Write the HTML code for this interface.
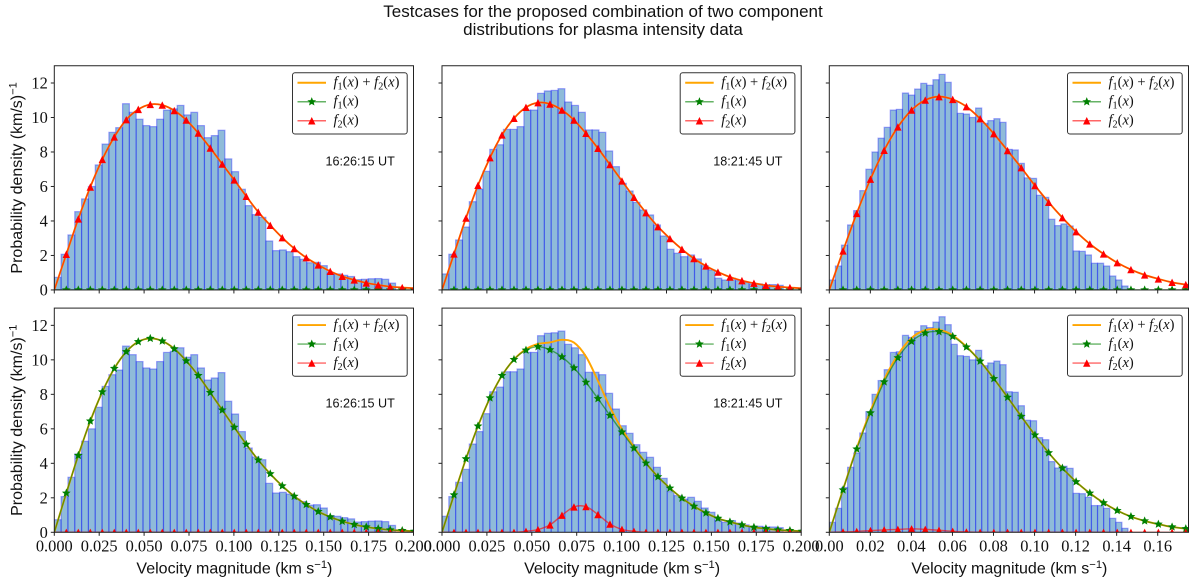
<!DOCTYPE html>
<html lang="en">
<head>
<meta charset="utf-8">
<title>Testcases for plasma intensity distributions</title>
<style>
html,body{margin:0;padding:0;background:#fff;width:1200px;height:585px;overflow:hidden}
svg{display:block;filter:blur(0.35px)}
.sans{font-family:"Liberation Sans",sans-serif;fill:#111}
.serif{font-family:"Liberation Serif",serif;fill:#111}
</style>
</head>
<body>
<svg id="figure" xmlns="http://www.w3.org/2000/svg" width="1200" height="585" viewBox="0 0 1200 585">
  <rect x="0" y="0" width="1200" height="585" fill="#fff"/>
  <text class="sans" x="603" y="17" font-size="17" text-anchor="middle">Testcases for the proposed combination of two component</text>
  <text class="sans" x="603" y="35" font-size="17" text-anchor="middle">distributions for plasma intensity data</text>
</svg>
<script>
// ---------- histogram heights ----------
const barsA = [.73,2.07,3.19,4.54,5.28,6.0,7.25,8.46,9.14,9.41,10.8,10.3,9.9,9.53,9.47,9.9,10.43,10.5,10.7,10.15,10.3,9.53,8.83,8.95,9.26,7.6,6.86,5.84,4.89,4.37,4.21,2.84,2.28,2.32,2.22,1.93,1.78,1.58,1.6,1.41,.97,.93,.85,.78,.6,.62,.65,.66,.62,.4];
const barsB = [.93,2.07,2.9,3.65,5.12,5.84,6.88,8.15,8.42,9.31,9.31,9.47,10.43,10.43,11.4,11.54,11.57,11.67,10.9,10.7,10.3,9.28,9.28,9.14,8.06,7.15,6.18,5.74,5.08,4.64,4.35,3.77,3.13,2.36,2.13,1.93,2.03,1.8,1.41,1.16,.68,.58,.68,.54,.43,.35,.35,.31,.31,.27];
const barsC = [.58,1.39,2.6,3.77,4.6,5.76,7.0,8.0,8.8,9.43,10.43,10.47,11.42,11.3,11.65,11.98,11.87,12.19,12.5,12.04,10.9,10.24,10.2,10.0,10.55,9.66,9.82,9.93,9.72,8.15,8.12,7.34,6.5,6.47,5.49,5.37,4.1,3.73,3.83,3.71,2.26,2.24,2.03,1.55,1.55,1.39,.81,.58,.23];
const binWidthAB = 0.0038;
const binWidthC = 0.00297;

// ---------- fitted curves, sampled every gridStep ----------
const gridStep = 0.00668;
const zeros31 = [0,0,0,0,0,0,0,0,0,0,0,0,0,0,0,0,0,0,0,0,0,0,0,0,0,0,0,0,0,0,0];
const zeros28 = [0,0,0,0,0,0,0,0,0,0,0,0,0,0,0,0,0,0,0,0,0,0,0,0,0,0,0,0];

const p1F2 = [0,2.07,4.12,5.97,7.57,8.87,9.87,10.47,10.76,10.72,10.4,9.85,9.1,8.23,7.3,6.38,5.43,4.52,3.75,3.03,2.4,1.87,1.45,1.08,.79,.58,.41,.29,.19,.14,.1];
const p1Sum = [0,2.07,4.12,5.97,7.57,8.87,9.87,10.47,10.76,10.72,10.4,9.85,9.1,8.23,7.3,6.38,5.43,4.52,3.75,3.03,2.4,1.87,1.45,1.08,.79,.58,.41,.29,.19,.14,.1];

const p2F2 = [0,2.09,4.17,6.07,7.67,8.99,9.95,10.59,10.86,10.78,10.43,9.85,9.08,8.21,7.27,6.32,5.37,4.48,3.67,2.98,2.36,1.82,1.39,1.04,.75,.54,.39,.27,.19,.14,.09];
const p2Sum = [0,2.09,4.17,6.07,7.67,8.99,9.95,10.59,10.86,10.78,10.43,9.85,9.08,8.21,7.27,6.32,5.37,4.48,3.67,2.98,2.36,1.82,1.39,1.04,.75,.54,.39,.27,.19,.14,.09];

const p3F2 = [0,2.26,4.44,6.42,8.1,9.45,10.43,11.01,11.21,11.05,10.63,9.93,9.06,8.08,7.09,6.05,5.08,4.19,3.38,2.67,2.09,1.58,1.18,.87,.64,.44,.31,.21];
const p3Sum = [0,2.26,4.44,6.42,8.1,9.45,10.43,11.01,11.21,11.05,10.63,9.93,9.06,8.08,7.09,6.05,5.08,4.19,3.38,2.67,2.09,1.58,1.18,.87,.64,.44,.31,.21];

const p4F1 = [0,2.27,4.46,6.45,8.14,9.5,10.47,11.05,11.24,11.09,10.64,9.94,9.09,8.1,7.09,6.09,5.1,4.19,3.39,2.69,2.09,1.61,1.2,.89,.64,.45,.31,.21,.14,.1,.06];
const p4Sum = [0,2.27,4.46,6.45,8.14,9.5,10.47,11.05,11.24,11.09,10.64,9.94,9.09,8.1,7.09,6.09,5.1,4.19,3.39,2.69,2.09,1.61,1.2,.89,.64,.45,.31,.21,.14,.1,.06];

const p5F1 = [0,2.17,4.26,6.16,7.79,9.09,10.02,10.56,10.76,10.58,10.17,9.53,8.7,7.75,6.78,5.81,4.88,4.01,3.22,2.56,1.98,1.51,1.12,.81,.6,.43,.29,.21,.14,.1,.06];
const p5F2 = [0,0,0,0,0,0,0,.06,.16,.43,.99,1.47,1.49,1.03,.48,.17,.06,0,0,0,0,0,0,0,0,0,0,0,0,0,0];
const p5Sum = [0,2.17,4.26,6.16,7.79,9.09,10.02,10.62,10.92,11.01,11.16,11.0,10.19,8.78,7.26,5.98,4.94,4.01,3.22,2.56,1.98,1.51,1.12,.81,.6,.43,.29,.21,.14,.1,.06];

const p6F1 = [0,2.46,4.83,6.92,8.72,10.12,11.07,11.55,11.63,11.36,10.74,9.92,8.91,7.83,6.72,5.64,4.61,3.72,2.93,2.27,1.71,1.26,.91,.66,.47,.31,.21,.14];
const p6F2 = [0,.02,.05,.1,.14,.17,.2,.17,.12,.06,.02,0,0,0,0,0,0,0,0,0,0,0,0,0,0,0,0,0];
const p6Sum = [0,2.48,4.88,7.02,8.86,10.29,11.27,11.72,11.75,11.42,10.76,9.92,8.91,7.83,6.72,5.64,4.61,3.72,2.93,2.27,1.71,1.26,.91,.66,.47,.31,.21,.14];

// ---------- axis ticks ----------
const yTickValues = [0,2,4,6,8,10,12];
const yTickLabels = ['0','2','4','6','8','10','12'];
const xTickValuesAB = [0,.025,.05,.075,.1,.125,.15,.175,.2];
const xTickLabelsAB = ['0.000','0.025','0.050','0.075','0.100','0.125','0.150','0.175','0.200'];
const xTickValuesC = [0,.02,.04,.06,.08,.1,.12,.14,.16];
const xTickLabelsC = ['0.00','0.02','0.04','0.06','0.08','0.10','0.12','0.14','0.16'];
const yMax = 13;

const SVGNS = 'http://www.w3.org/2000/svg';
const figure = document.getElementById('figure');
let clipCounter = 0;

function mk(tag, attrs, parent) {
  const el = document.createElementNS(SVGNS, tag);
  for (const k in attrs) el.setAttribute(k, attrs[k]);
  parent.appendChild(el);
  return el;
}

// smooth path through points (Catmull-Rom)
function smoothPath(pts) {
  let d = 'M' + pts[0][0].toFixed(2) + ' ' + pts[0][1].toFixed(2);
  for (let i = 0; i < pts.length - 1; i++) {
    const p0 = pts[Math.max(i - 1, 0)], p1 = pts[i], p2 = pts[i + 1], p3 = pts[Math.min(i + 2, pts.length - 1)];
    const c1x = p1[0] + (p2[0] - p0[0]) / 6, c1y = p1[1] + (p2[1] - p0[1]) / 6;
    const c2x = p2[0] - (p3[0] - p1[0]) / 6, c2y = p2[1] - (p3[1] - p1[1]) / 6;
    d += 'C' + c1x.toFixed(2) + ' ' + c1y.toFixed(2) + ' ' + c2x.toFixed(2) + ' ' + c2y.toFixed(2) + ' ' + p2[0].toFixed(2) + ' ' + p2[1].toFixed(2);
  }
  return d;
}

function trianglePoints(cx, cy, r) {
  return [[cx, cy - r], [cx - r, cy + r], [cx + r, cy + r]].map(p => p.join(',')).join(' ');
}
function starPoints(cx, cy, r) {
  const out = [];
  for (let k = 0; k < 10; k++) {
    const rad = k % 2 === 0 ? r : r * 0.45;
    const ang = -Math.PI / 2 + k * Math.PI / 5;
    out.push((cx + rad * Math.cos(ang)).toFixed(2) + ',' + (cy + rad * Math.sin(ang)).toFixed(2));
  }
  return out.join(' ');
}

// math label: f_i(x) style text with real characters
function addMathParts(textEl, parts) {
  parts.forEach(function (p) {
    const t = mk('tspan', {}, textEl);
    if (p[1] === 'i') t.setAttribute('font-style', 'italic');
    if (p[1] === 's') { t.setAttribute('font-size', '10.2'); t.setAttribute('dy', '3'); }
    if (p[2]) t.setAttribute('dy', p[2]);
    t.textContent = p[0];
  });
}
const labelSum = [['f','i'],['1','s'],['(','r','-3'],['x','i'],[') + ','r'],['f','i'],['2','s'],['(','r','-3'],['x','i'],[')','r']];
const labelF1 = [['f','i'],['1','s'],['(','r','-3'],['x','i'],[')','r']];
const labelF2 = [['f','i'],['2','s'],['(','r','-3'],['x','i'],[')','r']];

const triR = 3.7, starR = 4.6;

function drawPanel(cfg) {
  const g = mk('g', {}, figure);
  
  

  const left = cfg.left, top = cfg.top, w = cfg.w, h = cfg.h;
  const sx = v => left + v / cfg.xMax * w;
  const sy = v => top + h - v / yMax * h;

  const bg = mk('rect', {x: left, y: top, width: w, height: h, fill: '#fff'}, g);
  
  

  const clipId = 'clip' + (clipCounter++);
  const clip = mk('clipPath', {id: clipId}, g);
  mk('rect', {x: left, y: top, width: w, height: h}, clip);

  // histogram
  const barsGroup = mk('g', {'clip-path': 'url(#' + clipId + ')'}, g);
  
  
  cfg.bars.forEach(function (v, i) {
    const x0 = sx(i * cfg.bin), x1 = sx((i + 1) * cfg.bin);
    const bar = mk('rect', {x: x0.toFixed(2), y: sy(v).toFixed(2), width: (x1 - x0).toFixed(2), height: (sy(0) - sy(v)).toFixed(2),
      fill: '#1f77b4', 'fill-opacity': .5, stroke: '#0000ff', 'stroke-opacity': .33, 'stroke-width': 1.2}, barsGroup);
    
    
  });

  // curves
  const curves = mk('g', {'clip-path': 'url(#' + clipId + ')'}, g);
  
  
  const toPts = arr => arr.map((v, i) => [sx(i * gridStep), sy(v)]);

  const sumLine = mk('path', {d: smoothPath(toPts(cfg.sum)), fill: 'none', stroke: '#ffa500', 'stroke-width': 1.9}, curves);
  
  

  const f1Line = mk('path', {d: smoothPath(toPts(cfg.f1)), fill: 'none', stroke: '#008000', 'stroke-opacity': .6, 'stroke-width': 1.4}, curves);
  
  
  cfg.f1.forEach(function (v, i) {
    if (i === 0) return;
    const m = mk('polygon', {points: starPoints(sx(i * gridStep), sy(v), starR), fill: '#008000'}, curves);
    
    
  });

  const f2Line = mk('path', {d: smoothPath(toPts(cfg.f2)), fill: 'none', stroke: '#ff0000', 'stroke-opacity': .6, 'stroke-width': 1.4}, curves);
  
  
  cfg.f2.forEach(function (v, i) {
    if (i === 0) return;
    const m = mk('polygon', {points: trianglePoints(sx(i * gridStep), sy(v), triR), fill: '#ff0000'}, curves);
    
    
  });

  // frame
  const frame = mk('rect', {x: left, y: top, width: w, height: h, fill: 'none', stroke: '#222', 'stroke-width': 1}, g);
  
  

  // y ticks
  yTickValues.forEach(function (v, i) {
    const tick = mk('line', {x1: left - 3.5, x2: left, y1: sy(v), y2: sy(v), stroke: '#222', 'stroke-width': 1}, g);
    
    
    if (cfg.showY) {
      const lab = mk('text', {x: left - 6.5, y: sy(v) + 5.6, 'font-size': 16.4, 'text-anchor': 'end', class: 'serif'}, g);
      
      
      lab.textContent = yTickLabels[i];
    }
  });

  // x ticks
  cfg.xTicks.forEach(function (v, i) {
    const tick = mk('line', {x1: sx(v), x2: sx(v), y1: top + h, y2: top + h + 3.5, stroke: '#222', 'stroke-width': 1}, g);
    
    
    if (cfg.showX) {
      const lab = mk('text', {x: sx(v), y: top + h + 19.2, 'font-size': 16.4, 'text-anchor': 'middle', class: 'serif'}, g);
      
      
      lab.textContent = cfg.xTickLabels[i];
    }
  });

  // axis titles
  if (cfg.showX) {
    const xt = mk('text', {x: left + w / 2 + 0.5, y: top + h + 41, 'font-size': 16, 'text-anchor': 'middle', class: 'sans'}, g);
    
    
    xt.textContent = 'Velocity magnitude (km s';
    const sup1 = mk('tspan', {'font-size': 11.2, dy: -5.5}, xt);
    sup1.textContent = '\u22121';
    const close1 = mk('tspan', {dy: 5.5}, xt);
    close1.textContent = ')';
  }
  if (cfg.showY) {
    const cy = top + h / 2;
    const yt = mk('text', {x: 0, y: 0, transform: 'translate(22 ' + cy + ') rotate(-90)', 'font-size': 16, 'text-anchor': 'middle', class: 'sans'}, g);
    
    
    yt.textContent = 'Probability density (km/s)';
    const sup2 = mk('tspan', {'font-size': 11.2, dy: -5.5}, yt);
    sup2.textContent = '\u22121';
  }

  // timestamp
  if (cfg.time) {
    const tm = mk('text', {x: left + w - 88, y: top + 99.5, 'font-size': 12.6, class: 'sans'}, g);
    
    
    tm.textContent = cfg.time;
  }

  // legend
  const lx = left + w - 121, ly = top + 7, lw = 114.7, lh = 61.2;
  const legend = mk('g', {}, g);
  
  
  const legendBox = mk('rect', {x: lx, y: ly, width: lw, height: lh, rx: 2.5, fill: '#fff', 'fill-opacity': .8, stroke: '#333', 'stroke-width': 1}, legend);
  
  

  const hx0 = lx + 5, hx1 = lx + 33.5, hm = (hx0 + hx1) / 2, tx = lx + 41;
  const r1 = ly + 10, r2 = ly + 29, r3 = ly + 48;

  const entry1 = mk('g', {}, legend);
  
  
  mk('line', {x1: hx0, x2: hx1, y1: r1, y2: r1, stroke: '#ffa500', 'stroke-width': 1.9}, entry1);
  addMathParts(mk('text', {x: tx, y: r1 + 3.8, 'font-size': 14.5, class: 'serif'}, entry1), labelSum);

  const entry2 = mk('g', {}, legend);
  
  
  mk('line', {x1: hx0, x2: hx1, y1: r2, y2: r2, stroke: '#008000', 'stroke-opacity': .6, 'stroke-width': 1.4}, entry2);
  mk('polygon', {points: starPoints(hm, r2, starR), fill: '#008000'}, entry2);
  addMathParts(mk('text', {x: tx, y: r2 + 3.8, 'font-size': 14.5, class: 'serif'}, entry2), labelF1);

  const entry3 = mk('g', {}, legend);
  
  
  mk('line', {x1: hx0, x2: hx1, y1: r3, y2: r3, stroke: '#ff0000', 'stroke-opacity': .6, 'stroke-width': 1.4}, entry3);
  mk('polygon', {points: trianglePoints(hm, r3, triR), fill: '#ff0000'}, entry3);
  addMathParts(mk('text', {x: tx, y: r3 + 3.8, 'font-size': 14.5, class: 'serif'}, entry3), labelF2);
}

const topRowY = 65.75, botRowY = 308.1, rowH = 224.2;
const colX = [54.3, 442, 829.3];
const colW = 359.2;

drawPanel({name:'panel-top-left', left:colX[0], top:topRowY, w:colW, h:rowH, xMax:.2, bars:barsA, bin:binWidthAB, sum:p1Sum, f1:zeros31, f2:p1F2, xTicks:xTickValuesAB, xTickLabels:xTickLabelsAB, showX:false, showY:true, time:'16:26:15 UT'});
drawPanel({name:'panel-top-middle', left:colX[1], top:topRowY, w:colW, h:rowH, xMax:.2, bars:barsB, bin:binWidthAB, sum:p2Sum, f1:zeros31, f2:p2F2, xTicks:xTickValuesAB, xTickLabels:xTickLabelsAB, showX:false, showY:false, time:'18:21:45 UT'});
drawPanel({name:'panel-top-right', left:colX[2], top:topRowY, w:colW, h:rowH, xMax:.175, bars:barsC, bin:binWidthC, sum:p3Sum, f1:zeros28, f2:p3F2, xTicks:xTickValuesC, xTickLabels:xTickLabelsC, showX:false, showY:false, time:''});
drawPanel({name:'panel-bottom-left', left:colX[0], top:botRowY, w:colW, h:rowH, xMax:.2, bars:barsA, bin:binWidthAB, sum:p4Sum, f1:p4F1, f2:zeros31, xTicks:xTickValuesAB, xTickLabels:xTickLabelsAB, showX:true, showY:true, time:'16:26:15 UT'});
drawPanel({name:'panel-bottom-middle', left:colX[1], top:botRowY, w:colW, h:rowH, xMax:.2, bars:barsB, bin:binWidthAB, sum:p5Sum, f1:p5F1, f2:p5F2, xTicks:xTickValuesAB, xTickLabels:xTickLabelsAB, showX:true, showY:false, time:'18:21:45 UT'});
drawPanel({name:'panel-bottom-right', left:colX[2], top:botRowY, w:colW, h:rowH, xMax:.175, bars:barsC, bin:binWidthC, sum:p6Sum, f1:p6F1, f2:p6F2, xTicks:xTickValuesC, xTickLabels:xTickLabelsC, showX:true, showY:false, time:''});
</script>
</body>
</html>
